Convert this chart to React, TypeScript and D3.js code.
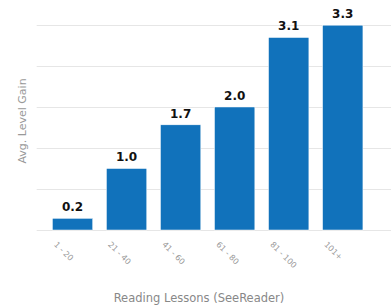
import React from "react";
import * as d3 from "d3";

const categories = ["1 - 20", "21 - 40", "41 - 60", "61 - 80", "81 - 100", "101+"];
const gains = [0.19, 1.0, 1.71, 2.0, 3.13, 3.33];
const gridValues = [0, 0.667, 1.333, 2.0, 2.667, 3.333];
const xTitle = "Reading Lessons (SeeReader)";
const yTitle = "Avg. Level Gain";

export default function App() {
  const W = 391, H = 308;
  const baseline = 230, top = 25;
  const x = d3.scaleBand<string>().domain(categories).range([36.7, 378.6]).paddingInner(0.253).paddingOuter(0.29);
  const y = d3.scaleLinear().domain([0, 3.333]).range([baseline, top]);
  const fmt = d3.format(".1f");
  const font = "'DejaVu Sans', Verdana, sans-serif";
  return (
    <svg width={W} height={H} style={{ position: "absolute", left: 0, top: 0, background: "#fff" }} fontFamily={font}>
      {gridValues.map((g, i) => (
        <line key={i} x1={36.7} x2={W} y1={Math.round(y(g)) + 0.5} y2={Math.round(y(g)) + 0.5} stroke="#e6e6e6" strokeWidth={1} />
      ))}
      {categories.map((c, i) => {
        const bx = x(c)!;
        const by = y(gains[i]);
        return (
          <g key={c}>
            <rect x={bx} y={by} width={x.bandwidth()} height={baseline - by} fill="#1172bb" stroke="#fff" strokeWidth={0.5} />
            <text x={bx + x.bandwidth() / 2} y={by - 7} textAnchor="middle" fontSize={12} fontWeight="bold" fill="#111">
              {fmt(gains[i])}
            </text>
            <text
              transform={`translate(${bx + x.bandwidth() / 2 - 19},${245}) rotate(45)`}
              fontSize={8}
              fill="#999"
            >
              {c}
            </text>
          </g>
        );
      })}
      <text x={199} y={302} textAnchor="middle" fontSize={11.5} fill="#888">{xTitle}</text>
      <text transform={`translate(26,121) rotate(-90)`} textAnchor="middle" fontSize={11} fill="#999">{yTitle}</text>
    </svg>
  );
}
